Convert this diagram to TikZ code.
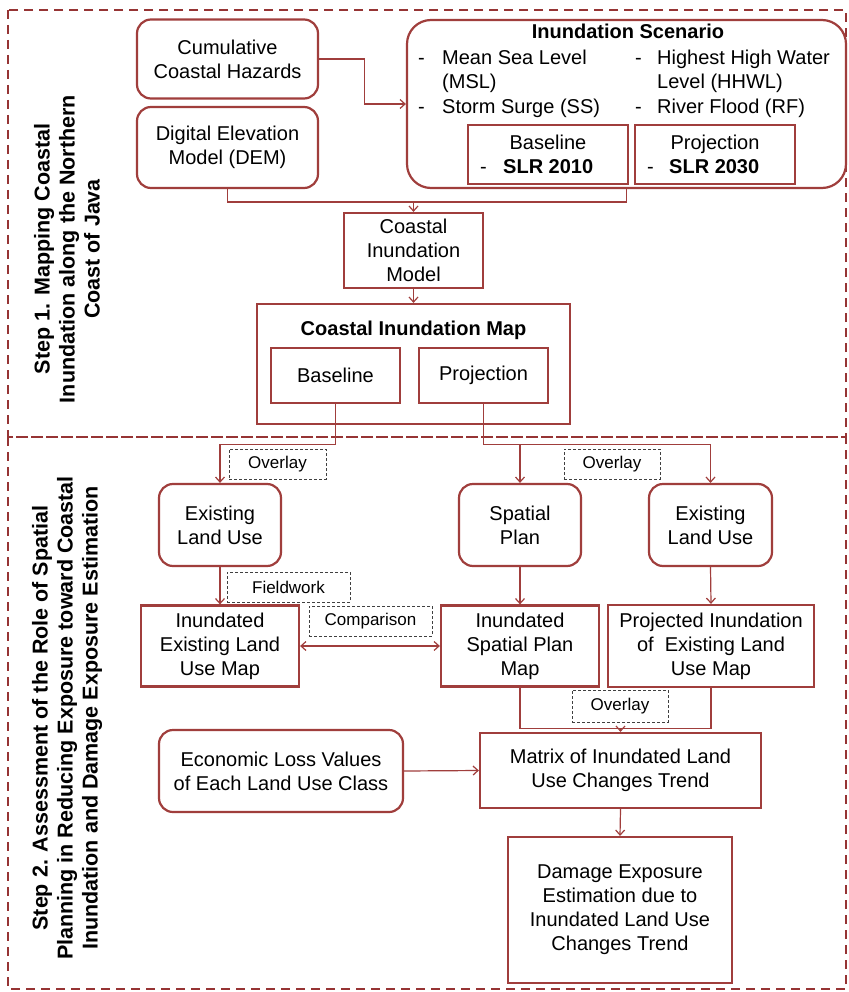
\documentclass[tikz,border=0pt]{standalone}
\usepackage{fontspec}
\setmainfont{Liberation Sans}
\usetikzlibrary{arrows.meta,calc}
\definecolor{boxred}{RGB}{160,62,60}
\definecolor{framered}{RGB}{150,52,52}
\newcommand\mainsz{\fontsize{20}{24}\selectfont}
\newcommand\smallsz{\fontsize{17}{20}\selectfont}
\newcommand\stepsz{\fontsize{21.5}{25}\selectfont\bfseries}
\begin{document}
\begin{tikzpicture}[x=1pt,y=-1pt,
  rbox/.style={draw=boxred, line width=2.2pt, rounded corners=14pt, inner sep=0pt, align=center, font=\mainsz},
  sbox/.style={draw=boxred, line width=2.2pt, inner sep=0pt, align=center, font=\mainsz},
  dbox/.style={draw=black!75, dash pattern=on 3pt off 2pt, line width=1pt, inner sep=0pt, font=\smallsz},
  conn/.style={draw=boxred, line width=1.2pt},
  arr/.style={conn, -{Straight Barb[length=5pt,width=9pt]}},
  framebox/.style={draw=framered, line width=2pt, dash pattern=on 9pt off 6pt},
  txt/.style={font=\mainsz, inner sep=0pt}
]
\useasboundingbox (0,0) rectangle (848,992);
\fill[white] (0,0) rectangle (848,992);

% frames
\draw[framebox] (8,10) rectangle (846,437);
\draw[framebox] (8,437) rectangle (846,989);

% step labels
\node[rotate=90, align=center, font=\stepsz, inner sep=0pt] (s1) at (67,249) {Step 1. Mapping Coastal\\Inundation along the Northern\\Coast of Java};
\node[rotate=90, align=center, font=\stepsz, inner sep=0pt] (s2) at (67,718) {Step 2. Assessment of the Role of Spatial\\Planning in Reducing Exposure toward Coastal\\Inundation and Damage Exposure Estimation};

% step 1 nodes
\node[rbox, minimum width=181, minimum height=79] (cum) at (227.5,59) {Cumulative\\Coastal Hazards};
\node[rbox, minimum width=181, minimum height=81] (dem) at (227.5,147.5) {Digital Elevation\\Model (DEM)};
\node[rbox, rounded corners=24pt, minimum width=439, minimum height=168] (scen) at (626.5,104) {};
\node[sbox, minimum width=160, minimum height=59] (sbase) at (548,154.5) {};
\node[sbox, minimum width=160, minimum height=59] (sproj) at (715,154.5) {};

\node[txt, font=\mainsz\bfseries, anchor=base] (stitle) at (628,39) {Inundation Scenario};
\node[txt, anchor=base west] (d1) at (418,65) {-};
\node[txt, anchor=base west] (t1) at (442,65) {Mean Sea Level};
\node[txt, anchor=base west] (t1b) at (442,89) {(MSL)};
\node[txt, anchor=base west] (d2) at (418,114) {-};
\node[txt, anchor=base west] (t2) at (442,114) {Storm Surge (SS)};
\node[txt, anchor=base west] (d3) at (635,65) {-};
\node[txt, anchor=base west] (t3) at (657,65) {Highest High Water};
\node[txt, anchor=base west] (t3b) at (657,89) {Level (HHWL)};
\node[txt, anchor=base west] (d4) at (635,114) {-};
\node[txt, anchor=base west] (t4) at (657,114) {River Flood (RF)};
\node[txt, anchor=base] (bt) at (548,150) {Baseline};
\node[txt, anchor=base west] (bd) at (480,174) {-};
\node[txt, font=\mainsz\bfseries, anchor=base west] (bs) at (503,174) {SLR 2010};
\node[txt, anchor=base] (pt) at (715,150) {Projection};
\node[txt, anchor=base west] (pd) at (647,174) {-};
\node[txt, font=\mainsz\bfseries, anchor=base west] (ps) at (669,174) {SLR 2030};

\node[sbox, minimum width=139, minimum height=75] (model) at (413.5,250.5) {Coastal\\Inundation\\Model};
\node[sbox, minimum width=313, minimum height=120] (map) at (413.5,364) {};
\node[txt, font=\mainsz\bfseries, anchor=base] (maptitle) at (413.5,335) {Coastal Inundation Map};
\node[sbox, minimum width=129, minimum height=55] (mbase) at (335.5,375.5) {Baseline};
\node[sbox, minimum width=129, minimum height=55] (mproj) at (483.5,375.5) {Projection};

% step 2 nodes
\node[rbox, minimum width=122, minimum height=82] (elu1) at (220,525) {Existing\\Land Use};
\node[rbox, minimum width=122, minimum height=82] (sp) at (520,525) {Spatial\\Plan};
\node[rbox, minimum width=123, minimum height=82] (elu2) at (710.5,525) {Existing\\Land Use};
\node[sbox, minimum width=158, minimum height=81] (ielu) at (220,646) {Inundated\\Existing Land\\Use Map};
\node[sbox, minimum width=158, minimum height=81] (isp) at (520,646) {Inundated\\Spatial Plan\\Map};
\node[sbox, minimum width=206, minimum height=82] (pielu) at (711,646) {Projected Inundation\\of~ Existing Land\\Use Map};
\node[rbox, minimum width=244, minimum height=82] (econ) at (281,771) {Economic Loss Values\\of Each Land Use Class};
\node[sbox, minimum width=281, minimum height=75] (matrix) at (620.5,770.5) {Matrix of Inundated Land\\Use Changes Trend};
\node[sbox, minimum width=224, minimum height=146] (damage) at (620,910) {Damage Exposure\\Estimation due to\\Inundated Land Use\\Changes Trend};

% dashed labels
\node[dbox, minimum width=97, minimum height=30] (ov1) at (277.5,464) {Overlay};
\node[dbox, minimum width=96, minimum height=30] (ov2) at (612,464) {Overlay};
\node[dbox, minimum width=123, minimum height=30] (fw) at (288.5,587) {Fieldwork};
\node[dbox, minimum width=123, minimum height=30] (cmp) at (370.5,621) {Comparison};
\node[dbox, minimum width=96, minimum height=32] (ov3) at (620,706) {Overlay};

% connectors step 1
\draw[arr] (cum.east) -- ++(45,0) |- (scen.west);
\coordinate (j1) at ($(dem.south)+(0,13)$);
\draw[conn] (dem.south) -- (j1) -- (j1 -| scen.south) -- (scen.south);
\draw[arr] (j1 -| model.north) -- (model.north);
\draw[arr] (model.south) -- (map.north);

% connectors step 2
\draw[arr] (mbase.south) -- ++(0,40) -| (elu1.north);
\coordinate (j2) at ($(mproj.south)+(0,40)$);
\draw[arr] (mproj.south) -- (j2) -| (elu2.north);
\draw[arr] (j2 -| sp.north) -- (sp.north);
\draw[arr] (elu1.south) -- (ielu.north);
\draw[arr] (sp.south) -- (isp.north);
\draw[arr] (elu2.south) -- (pielu.north);
\draw[conn, {Straight Barb[length=5pt,width=9pt]}-{Straight Barb[length=5pt,width=9pt]}] (ielu.east) -- (isp.west);
\coordinate (j3) at ($(isp.south)+(0,41)$);
\draw[conn] (isp.south) -- (j3) -| (pielu.south);
\draw[arr] (j3 -| matrix.north) -- (matrix.north);
\draw[arr] (econ.east) -- (matrix.west);
\draw[arr] (matrix.south) -- (damage.north);
\end{tikzpicture}
\end{document}
